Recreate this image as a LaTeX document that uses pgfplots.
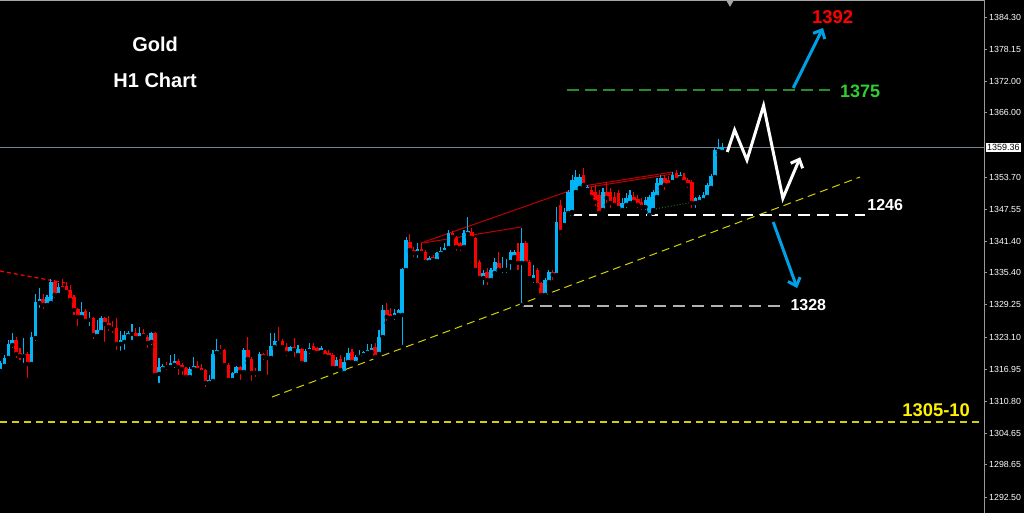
\documentclass[border=0pt]{standalone}
\usepackage{pgfplots}
\pgfplotsset{compat=1.18}
\usepackage{pgfplotstable}
\usepackage{fontspec}
\setmainfont{Liberation Sans}
\usetikzlibrary{arrows.meta}
\definecolor{cblue}{RGB}{0,180,245}
\definecolor{cred}{RGB}{255,0,0}
\definecolor{dred}{RGB}{190,0,0}
\definecolor{cyel}{RGB}{210,210,0}
\definecolor{cgreen}{RGB}{40,140,40}
\definecolor{lgreen}{RGB}{50,205,50}
\definecolor{arrowblue}{RGB}{0,160,230}
\definecolor{pline}{RGB}{120,130,140}

\pgfplotstableread{
i o h l c
0 1316.60 1318.51 1316.41 1318.13
1 1317.55 1319.66 1317.17 1319.09
2 1319.09 1322.53 1318.32 1321.77
3 1321.57 1323.87 1320.62 1322.53
6 1319.47 1322.91 1317.75 1319.86
8 1317.94 1324.06 1317.55 1323.10
9 1322.91 1331.33 1321.96 1329.80
10 1329.61 1332.47 1328.27 1330.37
12 1329.22 1331.14 1328.84 1330.75
13 1329.61 1334.19 1329.42 1333.62
15 1331.14 1333.43 1330.75 1332.66
21 1326.93 1329.80 1326.74 1327.89
23 1326.35 1327.89 1324.82 1326.74
25 1323.29 1326.35 1322.91 1324.44
26 1324.06 1327.12 1323.68 1326.74
31 1321.77 1324.25 1320.05 1322.53
32 1322.15 1324.25 1320.24 1323.48
33 1323.29 1324.25 1322.53 1323.87
34 1323.68 1325.59 1322.15 1323.87
36 1322.91 1325.02 1322.72 1323.87
39 1322.15 1324.06 1321.19 1323.87
41 1316.03 1319.09 1313.92 1317.36
42 1316.98 1317.94 1316.41 1317.55
44 1317.36 1319.66 1316.98 1318.13
45 1317.75 1319.86 1316.79 1318.51
49 1315.45 1317.36 1315.07 1316.98
50 1316.98 1319.28 1316.41 1317.55
54 1314.31 1315.84 1314.12 1314.88
55 1314.69 1320.62 1314.50 1319.86
56 1320.05 1322.72 1319.66 1320.62
60 1314.88 1316.41 1314.31 1316.22
61 1315.84 1317.55 1315.64 1317.36
63 1316.41 1321.00 1316.22 1320.62
67 1316.22 1320.24 1315.84 1319.86
70 1319.09 1323.87 1318.89 1321.38
71 1321.19 1323.87 1320.81 1322.34
75 1320.05 1321.38 1319.47 1321.19
77 1319.66 1321.57 1319.28 1320.81
79 1317.94 1320.81 1317.75 1320.43
80 1320.43 1321.96 1319.47 1321.00
83 1320.24 1321.38 1320.05 1321.00
87 1317.17 1319.28 1316.98 1318.70
89 1316.22 1319.28 1316.03 1318.32
90 1318.32 1321.00 1318.13 1320.05
92 1318.13 1319.66 1317.94 1319.28
93 1319.28 1320.62 1318.51 1319.66
94 1319.66 1320.43 1318.89 1320.24
95 1320.05 1321.77 1319.66 1320.62
96 1320.24 1321.77 1320.05 1321.00
98 1319.86 1324.44 1319.66 1323.10
99 1323.10 1329.22 1322.91 1328.27
102 1326.93 1328.46 1325.97 1327.70
103 1327.32 1328.46 1326.93 1328.27
104 1327.32 1336.30 1321.19 1336.11
105 1335.92 1342.23 1335.34 1341.65
108 1339.17 1341.08 1337.83 1339.93
111 1337.45 1338.59 1337.26 1338.21
113 1337.64 1339.36 1337.26 1339.17
114 1338.98 1340.31 1338.59 1339.55
115 1339.36 1341.08 1339.17 1340.12
116 1340.12 1343.56 1339.93 1342.99
120 1340.31 1343.56 1340.12 1342.99
121 1342.80 1346.05 1342.23 1343.37
125 1334.38 1335.92 1332.66 1335.34
127 1334.00 1336.30 1333.62 1335.92
128 1335.34 1338.21 1334.58 1337.45
130 1335.92 1338.40 1334.96 1336.30
131 1335.92 1338.02 1334.96 1336.30
132 1337.45 1339.74 1335.53 1339.36
133 1338.40 1339.74 1338.02 1339.36
135 1337.26 1343.95 1329.22 1341.08
138 1334.00 1336.87 1333.04 1334.96
141 1331.14 1334.38 1330.75 1334.00
142 1333.62 1335.92 1333.24 1335.53
144 1334.96 1347.96 1334.58 1345.09
146 1344.52 1347.77 1343.95 1347.01
147 1346.82 1351.21 1346.43 1350.83
148 1347.01 1354.08 1346.62 1353.13
149 1350.83 1355.04 1350.26 1353.70
150 1351.60 1354.27 1351.21 1353.70
152 1351.21 1352.17 1350.64 1351.79
156 1347.39 1351.60 1346.62 1350.83
161 1347.39 1349.69 1346.82 1348.73
162 1348.35 1350.64 1347.39 1349.69
163 1348.73 1351.21 1348.35 1350.26
167 1347.96 1349.88 1347.01 1349.30
168 1346.43 1350.26 1346.24 1349.88
169 1347.39 1351.21 1346.82 1350.83
170 1349.88 1353.51 1349.30 1352.55
171 1351.79 1354.08 1351.21 1353.51
174 1352.74 1354.66 1352.17 1354.08
176 1353.51 1354.66 1353.13 1354.08
180 1348.73 1349.88 1347.39 1349.69
181 1348.92 1350.26 1348.35 1349.88
182 1349.30 1350.83 1348.92 1350.26
183 1349.88 1352.55 1349.49 1352.17
184 1351.60 1354.27 1351.21 1353.89
185 1353.70 1359.44 1353.51 1358.86
186 1358.67 1360.97 1357.91 1359.44
187 1358.48 1360.21 1357.72 1359.44
}\bull

\pgfplotstableread{
i o h l c
4 1322.53 1323.10 1318.70 1319.86
5 1320.05 1321.00 1318.32 1319.47
7 1319.86 1320.24 1314.88 1317.94
11 1330.37 1331.33 1328.08 1329.22
14 1333.62 1334.00 1330.18 1331.14
16 1332.85 1334.19 1332.09 1332.28
17 1332.85 1333.62 1331.33 1331.71
18 1332.09 1333.04 1329.80 1330.18
19 1330.75 1331.14 1326.93 1328.27
20 1328.46 1328.65 1324.82 1326.93
22 1328.08 1328.46 1325.97 1326.16
24 1326.74 1326.93 1322.34 1323.48
27 1326.74 1326.93 1321.77 1325.59
28 1325.78 1327.12 1323.87 1325.02
29 1325.02 1326.16 1323.48 1324.63
30 1324.82 1326.74 1320.24 1321.77
35 1323.87 1324.82 1322.72 1322.91
37 1323.87 1324.63 1322.91 1323.29
38 1323.10 1323.48 1320.62 1321.96
40 1323.87 1324.06 1315.64 1315.84
43 1317.55 1318.32 1316.41 1317.36
46 1318.51 1318.89 1315.45 1317.36
47 1317.75 1318.13 1315.45 1316.98
48 1317.17 1317.36 1314.88 1315.45
51 1317.55 1318.51 1316.22 1316.79
52 1317.17 1317.94 1315.84 1316.41
53 1316.79 1316.98 1313.16 1314.31
57 1320.62 1321.57 1319.47 1320.43
58 1320.62 1320.81 1317.17 1317.75
59 1317.75 1318.13 1314.50 1314.88
62 1317.36 1317.55 1314.50 1316.41
64 1320.62 1323.10 1318.13 1318.89
65 1318.89 1319.28 1314.31 1316.22
66 1316.41 1317.17 1315.07 1316.22
68 1319.86 1320.05 1318.32 1319.28
69 1319.47 1320.62 1315.45 1319.09
72 1322.34 1325.02 1321.77 1321.96
73 1322.34 1322.72 1320.62 1321.19
74 1321.19 1321.96 1319.09 1320.05
76 1321.19 1322.91 1318.89 1320.62
78 1320.81 1321.00 1317.94 1318.13
81 1321.38 1321.96 1320.05 1320.24
82 1321.00 1321.19 1319.28 1320.05
84 1320.43 1320.62 1319.28 1319.47
85 1320.05 1320.62 1318.89 1319.28
86 1319.66 1320.05 1316.98 1317.17
88 1318.89 1319.66 1316.41 1316.79
91 1320.24 1320.81 1318.13 1318.32
97 1321.19 1321.96 1319.09 1319.28
100 1328.27 1329.61 1325.78 1326.93
101 1327.51 1328.65 1326.35 1326.74
106 1341.27 1342.80 1339.36 1339.74
107 1339.74 1340.31 1338.02 1339.17
109 1339.93 1341.08 1338.78 1339.17
110 1339.36 1339.74 1337.26 1337.45
112 1338.40 1338.78 1337.45 1337.83
117 1342.99 1343.37 1342.04 1342.23
118 1342.04 1342.42 1339.17 1340.31
119 1341.08 1341.27 1339.17 1340.12
122 1343.18 1343.95 1341.84 1342.04
123 1342.04 1342.23 1335.53 1335.92
124 1337.45 1337.83 1334.00 1334.38
126 1335.53 1336.30 1332.66 1334.00
129 1337.26 1339.36 1335.34 1335.92
134 1339.36 1341.08 1335.53 1337.26
136 1341.08 1341.46 1336.87 1337.26
137 1337.45 1337.83 1334.00 1334.38
139 1335.92 1336.30 1332.66 1333.04
140 1333.43 1333.62 1330.75 1331.14
143 1335.53 1335.92 1333.62 1334.96
145 1348.35 1349.30 1342.23 1343.18
151 1354.08 1355.42 1351.60 1352.17
153 1351.21 1351.79 1349.30 1349.88
154 1350.83 1352.17 1347.77 1348.92
155 1350.26 1351.21 1346.43 1346.82
157 1350.83 1352.55 1348.35 1349.69
158 1350.83 1351.60 1347.39 1348.73
159 1349.88 1350.83 1347.77 1348.35
160 1350.64 1351.21 1347.01 1347.77
164 1349.88 1350.83 1348.35 1348.92
165 1349.49 1350.26 1347.39 1348.35
166 1348.92 1349.69 1347.01 1347.96
172 1353.51 1354.08 1350.83 1352.17
173 1353.13 1353.89 1351.60 1352.17
175 1354.46 1355.04 1352.55 1353.13
177 1353.70 1354.46 1352.17 1352.74
178 1353.13 1353.51 1351.21 1352.17
179 1352.74 1353.13 1347.39 1348.73
}\bear

\begin{document}
\begin{tikzpicture}
\fill[black] (0,0) rectangle (1024pt,513pt);
\begin{axis}[
  at={(0pt,0pt)}, anchor=south west,
  scale only axis, width=984pt, height=513pt,
  xmin=-0.18, xmax=254.7, ymin=1289.44, ymax=1387.55,
  axis x line=none, axis y line*=right,
  y axis line style={draw=gray!80, line width=1pt},
  ytick={1384.30,1378.15,1372.00,1366.00,1353.70,1347.55,1341.40,1335.40,1329.25,1323.10,1316.95,1310.80,1304.65,1298.65,1292.50},
  yticklabels={1384.30,1378.15,1372.00,1366.00,1353.70,1347.55,1341.40,1335.40,1329.25,1323.10,1316.95,1310.80,1304.65,1298.65,1292.50},
  tick align=outside, major tick length=3pt,
  ytick style={draw=gray!80, line width=0.8pt},
  yticklabel style={text=white, font=\fontsize{8.8}{10}\selectfont, inner sep=2pt},
  /pgf/number format/assume math mode=true,
  clip=false,
]
% current price line
\addplot[pline, line width=1pt] coordinates {(-0.18,1359.36) (254.7,1359.36)};
% 1305-10 level
\addplot[cyel, line width=1.2pt, dash pattern=on 7pt off 5pt] coordinates {(-0.18,1306.85) (254.7,1306.85)};
% trend line
\addplot[cyel, line width=1pt, dash pattern=on 8pt off 5pt] coordinates {(70.3,1311.63) (222.6,1353.70)};
% red dashed top-left
\addplot[cred, line width=1.2pt, dash pattern=on 4pt off 3pt] coordinates {(-0.18,1335.72) (16.7,1333.43)};
% red channel lines
\addplot[dred, line width=1pt] coordinates {(108.9,1341.08) (150.9,1351.98) (174.2,1354.66)};
\addplot[dred, line width=1pt] coordinates {(150.9,1351.60) (174.2,1354.28)};
\addplot[dred, line width=1pt] coordinates {(109.5,1341.08) (134.8,1344.14)};
% green dotted
\addplot[cgreen!80!black, line width=1pt, dotted] coordinates {(168.2,1347.39) (179.4,1348.92)};
% levels
\addplot[white, line width=1.5pt, dash pattern=on 12pt off 7pt] coordinates {(147.5,1346.43) (223.9,1346.43)};
\addplot[gray!60!white, line width=1.5pt, dash pattern=on 12pt off 7pt] coordinates {(134.8,1329.03) (201.9,1329.03)};
\addplot[cgreen, line width=1.2pt, dash pattern=on 12pt off 6pt] coordinates {(146.7,1370.34) (214.8,1370.34)};

% candles: wicks
\addplot[only marks, mark=none, error bars/.cd, y dir=plus, y explicit, error mark=none,
  error bar style={draw=cblue, line width=1.1pt}]
  table[x=i, y=l, y error plus expr=\thisrow{h}-\thisrow{l}] {\bull};
\addplot[only marks, mark=none, error bars/.cd, y dir=plus, y explicit, error mark=none,
  error bar style={draw=cred, line width=1.1pt}]
  table[x=i, y=l, y error plus expr=\thisrow{h}-\thisrow{l}] {\bear};
% candles: bodies
\addplot[only marks, mark=none, error bars/.cd, y dir=plus, y explicit, error mark=none,
  error bar style={draw=cblue, line width=3.6pt}]
  table[x=i, y=o, y error plus expr=\thisrow{c}-\thisrow{o}] {\bull};
\addplot[only marks, mark=none, error bars/.cd, y dir=plus, y explicit, error mark=none,
  error bar style={draw=cred, line width=3.6pt}]
  table[x=i, y=c, y error plus expr=\thisrow{o}-\thisrow{c}] {\bear};

% arrows
\addplot[arrowblue, line width=3pt, -{Straight Barb[length=7pt, width=13pt]}] coordinates {(205.3,1370.72) (213.0,1382.20)};
\addplot[arrowblue, line width=3pt, -{Straight Barb[length=7pt, width=13pt]}] coordinates {(200.1,1345.09) (206.3,1332.47)};
\addplot[white, line width=3pt, line join=miter, -{Straight Barb[length=7pt, width=13pt]}] coordinates {(188.2,1358.48) (190.1,1362.69) (193.3,1356.95) (197.6,1367.34) (202.6,1349.63) (207.1,1357.47)};
% top marker
\addplot[only marks, mark=triangle*, mark size=3.5pt, mark options={rotate=180, fill=gray!70, draw=gray!70}] coordinates {(188.9,1387.0)};

% labels
\node[text=white, font=\bfseries\fontsize{20}{24}\selectfont] at (axis cs:40.0,1379.14) {Gold};
\node[text=white, font=\bfseries\fontsize{20}{24}\selectfont] at (axis cs:40.0,1372.25) {H1 Chart};
\node[text=cred, font=\bfseries\fontsize{18.5}{22}\selectfont] at (axis cs:215.5,1384.20) {1392};
\node[text=lgreen, font=\bfseries\fontsize{18}{22}\selectfont] at (axis cs:222.6,1370.15) {1375};
\node[text=white, font=\bfseries\fontsize{16}{19}\selectfont] at (axis cs:229.1,1348.40) {1246};
\node[text=white, font=\bfseries\fontsize{16}{19}\selectfont] at (axis cs:209.2,1329.22) {1328};
\node[text=yellow, font=\bfseries\fontsize{18.4}{22}\selectfont] at (axis cs:242.3,1309.14) {1305-10};
\node[fill=white, text=black, anchor=west, inner sep=1pt, xshift=2pt, font=\fontsize{9}{10}\selectfont] at (axis cs:254.7,1359.36) {1359.36};
\end{axis}
\draw[gray!70, line width=1pt] (0,512pt) -- (984pt,512pt);
\pgfresetboundingbox
\useasboundingbox (0,0) rectangle (1024pt,513pt);
\end{tikzpicture}
\end{document}
